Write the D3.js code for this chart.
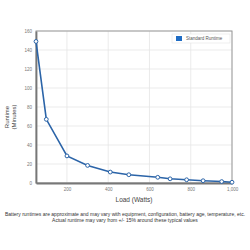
<!DOCTYPE html>
<html lang="en">
<head>
  <meta charset="UTF-8">
  <title>Runtime vs Load</title>
  <script src="https://d3js.org/d3.v7.min.js"></script>
  <style>
    body { margin: 0; background: #fff; font-family: "Liberation Sans", Arial, sans-serif; }
    .grid line { stroke: #e6e6e6; stroke-width: 0.8; }
    .tick text { fill: #777; }
  </style>
</head>
<body>
  <div id="chart"></div>
  <script>
    const loads = [50, 100, 200, 300, 410, 500, 640, 700, 780, 860, 950, 1000];
    const runtimes = [149, 67, 28.5, 18.5, 11.5, 8.7, 6, 4.4, 3.4, 2.4, 1.5, 0.8];
    const xTicks = [200, 400, 600, 800, 1000];
    const yTicks = [0, 20, 40, 60, 80, 100, 120, 140, 160];
    const seriesName = "Standard Runtime";

    const W = 250, H = 250;
    const plot = {left: 36, top: 31, right: 232, bottom: 183};

    const svg = d3.select("#chart").append("svg")
      .attr("width", W).attr("height", H);

    const x = d3.scaleLinear().domain([50, 1000]).range([plot.left, plot.right]);
    const y = d3.scaleLinear().domain([0, 160]).range([plot.bottom, plot.top]);

    // grid
    svg.append("g").attr("class", "grid")
      .selectAll("line.v").data(xTicks).enter().append("line")
      .attr("x1", d => x(d)).attr("x2", d => x(d))
      .attr("y1", plot.top).attr("y2", plot.bottom);
    svg.append("g").attr("class", "grid")
      .selectAll("line.h").data(yTicks).enter().append("line")
      .attr("x1", plot.left).attr("x2", plot.right)
      .attr("y1", d => y(d)).attr("y2", d => y(d));

    // frame
    svg.append("rect")
      .attr("x", plot.left).attr("y", plot.top)
      .attr("width", plot.right - plot.left).attr("height", plot.bottom - plot.top)
      .attr("fill", "none").attr("stroke", "#999").attr("stroke-width", 1);

    // axes
    const xAxis = svg.append("g")
      .attr("transform", "translate(0," + plot.bottom + ")")
      .call(d3.axisBottom(x).tickValues(xTicks).tickSize(0).tickPadding(5));
    xAxis.select(".domain").attr("stroke", "#777").attr("stroke-width", 1.8);
    xAxis.selectAll("text").style("font-size", "4.5px");

    const yAxis = svg.append("g")
      .attr("transform", "translate(" + plot.left + ",0)")
      .call(d3.axisLeft(y).tickValues(yTicks).tickSize(0).tickPadding(4));
    yAxis.select(".domain").attr("stroke", "#777").attr("stroke-width", 1.8);
    yAxis.selectAll("text").style("font-size", "4.5px");

    // series
    const pts = loads.map((d, i) => ({x: d, y: runtimes[i]}));
    const line = d3.line().x(d => x(d.x)).y(d => y(d.y));

    svg.append("path")
      .datum(pts)
      .attr("fill", "none")
      .attr("stroke", "#2b64a8")
      .attr("stroke-width", 1.6)
      .attr("d", line);

    svg.selectAll(".pt").data(pts).enter().append("circle")
      .attr("class", "pt")
      .attr("cx", d => x(d.x)).attr("cy", d => y(d.y))
      .attr("r", 1.9)
      .attr("fill", "#fff")
      .attr("stroke", "#2b64a8")
      .attr("stroke-width", 1);

    // legend
    const lg = svg.append("g").attr("transform", "translate(172,34)");
    lg.append("rect").attr("width", 58).attr("height", 9)
      .attr("fill", "#fff").attr("stroke", "#e4e4e4").attr("stroke-width", 0.6);
    lg.append("rect").attr("x", 4).attr("y", 2).attr("width", 6).attr("height", 5)
      .attr("fill", "#1f6cc4");
    lg.append("text").attr("x", 14).attr("y", 6.3)
      .style("font-size", "4.5px").attr("fill", "#555")
      .text(seriesName);

    // axis titles
    svg.append("text")
      .attr("x", (plot.left + plot.right) / 2).attr("y", 202)
      .attr("text-anchor", "middle")
      .style("font-size", "6.5px").attr("fill", "#444")
      .text("Load (Watts)");

    const yl = svg.append("text")
      .attr("transform", "translate(9,117) rotate(-90)")
      .attr("text-anchor", "middle")
      .style("font-size", "6px").attr("fill", "#444");
    yl.append("tspan").attr("x", 0).attr("dy", 0).text("Runtime");
    yl.append("tspan").attr("x", 0).attr("dy", "1.1em").text("(Minutes)");

    // footnote
    svg.append("text")
      .attr("x", 125).attr("y", 215.5)
      .attr("text-anchor", "middle")
      .style("font-size", "5px").attr("fill", "#333")
      .text("Battery runtimes are approximate and may vary with equipment, configuration, battery age, temperature, etc.");
    svg.append("text")
      .attr("x", 125).attr("y", 221.5)
      .attr("text-anchor", "middle")
      .style("font-size", "5px").attr("fill", "#333")
      .text("Actual runtime may vary from +/- 15% around these typical values");
  </script>
</body>
</html>
